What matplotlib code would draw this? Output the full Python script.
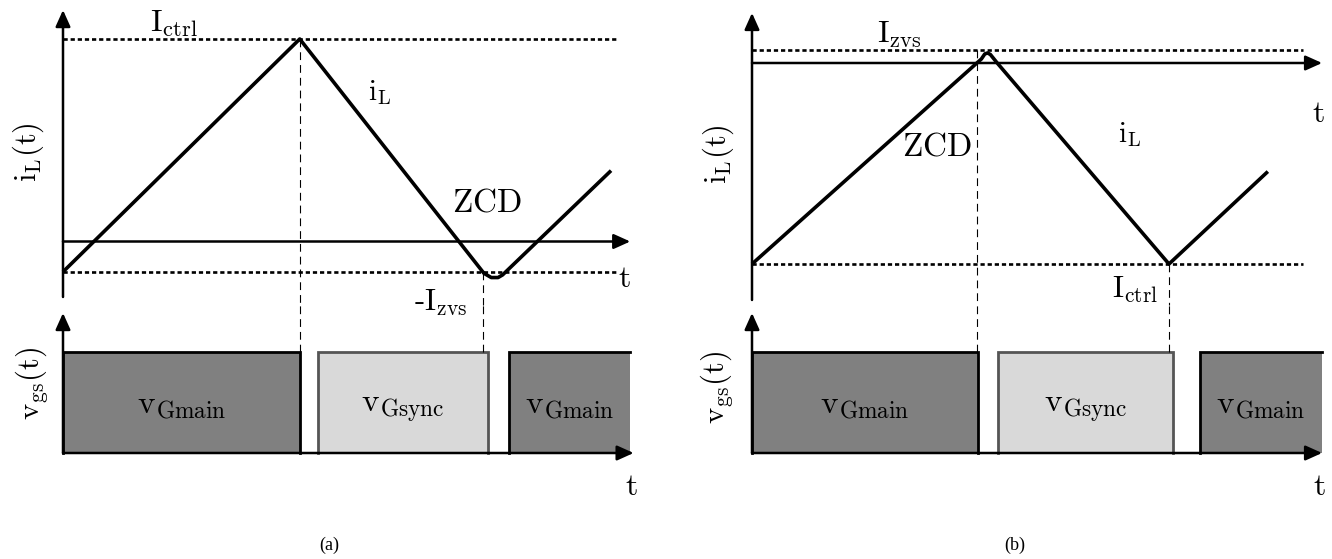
import matplotlib
matplotlib.use("Agg")
import matplotlib.pyplot as plt

plt.rcParams['mathtext.fontset'] = 'cm'
plt.rcParams['font.family'] = ['DejaVu Serif']

# panel (a): inductor current, time in arbitrary units, current normalised to I_ctrl
t_a = [0.0, 4.19, 7.45, 7.58, 7.70, 7.78, 9.70]
i_a = [-0.15, 1.0, -0.157, -0.178, -0.178, -0.165, 0.35]
ictrl_a = 1.0
izvs_a = -0.15
peak_a = 4.19
zcd_a = 7.43

# panel (b): inductor current, normalised to -I_ctrl
t_b = [0.0, 4.06, 4.12, 4.17, 4.22, 4.34, 7.38, 9.13]
i_b = [-1.0, 0.02, 0.045, 0.05, 0.042, 0.0, -1.0, -0.54]
izvs_b = 0.064
ictrl_b = -1.0
zcd_b = 3.98
valley_b = 7.38

# gate pulses: (start, end, kind)
pulses_a = [(0.0, 4.19, 'main'), (4.51, 7.52, 'sync'), (7.89, 10.04, 'main')]
pulses_b = [(0.0, 4.0, 'main'), (4.35, 7.45, 'sync'), (7.93, 10.09, 'main')]

DARK = '#808080'
LIGHT = '#d9d9d9'
W, H = 1332, 559

fig = plt.figure(figsize=(W / 100, H / 100), dpi=100)


def add_ax(px0, px1, py0, py1, xlim, ylim):
    ax = fig.add_axes([px0 / W, 1 - py1 / H, (px1 - px0) / W, (py1 - py0) / H])
    ax.set_xlim(*xlim)
    ax.set_ylim(*ylim)
    ax.set_axis_off()
    return ax


def arrow(ax, x0, y0, x1, y1):
    ax.annotate('', xy=(x1, y1), xytext=(x0, y0), annotation_clip=False,
                arrowprops=dict(arrowstyle='-|>,head_length=1.0,head_width=0.45',
                                lw=1.8, color='k', shrinkA=0, shrinkB=0,
                                mutation_scale=10))


def dotted(ax, y, x1):
    ax.plot([0, x1], [y, y], color='k', lw=1.9, ls=(0, (1.6, 1.1)))


def vdash(ax, x, y0, y1):
    ax.plot([x, x], [y0, y1], color='k', lw=0.8, ls=(0, (7, 4.5)), clip_on=False)


def gate(ax, pulses, xtip):
    for k, (s, e, kind) in enumerate(pulses):
        last = k == len(pulses) - 1
        if kind == 'main':
            ax.fill_between([s, e], 0, 1, color=DARK, lw=0)
            xs = [s, s, e] if last else [s, s, e, e]
            ys = [0, 1, 1] if last else [0, 1, 1, 0]
            ax.plot(xs, ys, color='k', lw=2.0, solid_joinstyle='miter')
            lab = r'$\mathrm{v}_{\mathrm{Gmain}}$'
        else:
            ax.fill_between([s, e], 0, 1, color=LIGHT, lw=0)
            ax.plot([s, s, e, e], [0, 1, 1, 0], color='#555555', lw=2.0,
                    solid_joinstyle='miter')
            lab = r'$\mathrm{v}_{\mathrm{Gsync}}$'
        ax.text((s + e) / 2, 0.40, lab, fontsize=24, ha='center', va='baseline')
    arrow(ax, 0, 0, xtip, 0)
    arrow(ax, 0, 0, 0, 1.386)
    ax.text(xtip - 0.05, -0.42, r'$\mathrm{t}$', fontsize=23, ha='center', va='baseline')


# ---------- panel (a) ----------
ax = add_ax(0, 666, 0, 305, ((0 - 63) / 56.5, (666 - 63) / 56.5),
            ((241.5 - 305) / 202.5, 241.5 / 202.5))
dotted(ax, ictrl_a, 9.8)
dotted(ax, izvs_a, 9.8)
arrow(ax, 0, 0, 10.04, 0)
arrow(ax, 0, -0.274, 0, 1.143)
ax.plot(t_a, i_a, color='k', lw=2.6, solid_joinstyle='round', solid_capstyle='butt')
vdash(ax, peak_a, ictrl_a, ax.get_ylim()[0])
vdash(ax, zcd_a, izvs_a, ax.get_ylim()[0])
ax.text(1.54, 1.035, r'$\mathrm{I}_{\mathrm{ctrl}}$', fontsize=23, va='baseline')
ax.text(5.40, 0.70, r'$\mathrm{i}_{\mathrm{L}}$', fontsize=21, va='baseline')
ax.text(6.88, 0.146, r'$\mathrm{ZCD}$', fontsize=24, va='baseline')
ax.text(6.21, -0.343, r'$\mathrm{\text{-}I}_{\mathrm{zvs}}$', fontsize=22, va='baseline')
ax.text(9.93, -0.225, r'$\mathrm{t}$', fontsize=23, ha='center', va='baseline')
ax.text(-0.62, 0.44, r'$\mathrm{i}_{\mathrm{L}}(\mathrm{t})$', fontsize=22,
        rotation=90, ha='center', va='center')

ax = add_ax(0, 666, 305, 559, ((0 - 63) / 56.5, (666 - 63) / 56.5),
            ((453 - 559) / 101, (453 - 305) / 101))
gate(ax, pulses_a, 10.1)
vdash(ax, peak_a, 1.0, ax.get_ylim()[1])
vdash(ax, zcd_a, 1.0, ax.get_ylim()[1])
ax.text(-0.55, 0.69, r'$\mathrm{v}_{\mathrm{gs}}(\mathrm{t})$', fontsize=22,
        rotation=90, ha='center', va='center')

# ---------- panel (b) ----------
ax = add_ax(666, 1332, 0, 305, ((666 - 752) / 56.5, (1332 - 752) / 56.5),
            (-(305 - 63) / 201, 63 / 201))
dotted(ax, izvs_b, 9.75)
dotted(ax, ictrl_b, 9.75)
arrow(ax, 0, 0, 10.09, 0)
arrow(ax, 0, -1.179, 0, 0.249)
ax.plot(t_b, i_b, color='k', lw=2.6, solid_joinstyle='round', solid_capstyle='butt')
vdash(ax, zcd_b, izvs_b, ax.get_ylim()[0])
vdash(ax, valley_b, ictrl_b, ax.get_ylim()[0])
ax.text(2.21, 0.104, r'$\mathrm{I}_{\mathrm{zvs}}$', fontsize=23, va='baseline')
ax.text(2.65, -0.458, r'$\mathrm{ZCD}$', fontsize=24, va='baseline')
ax.text(6.48, -0.393, r'$\mathrm{i}_{\mathrm{L}}$', fontsize=21, va='baseline')
ax.text(6.37, -1.169, r'$\mathrm{I}_{\mathrm{ctrl}}$', fontsize=22, va='baseline')
ax.text(10.02, -0.294, r'$\mathrm{t}$', fontsize=23, ha='center', va='baseline')
ax.text(-0.60, -0.455, r'$\mathrm{i}_{\mathrm{L}}(\mathrm{t})$', fontsize=22,
        rotation=90, ha='center', va='center')

ax = add_ax(666, 1332, 305, 559, ((666 - 752) / 56.5, (1332 - 752) / 56.5),
            ((453 - 559) / 101, (453 - 305) / 101))
gate(ax, pulses_b, 10.09)
vdash(ax, zcd_b, 1.0, ax.get_ylim()[1])
vdash(ax, valley_b, 1.0, ax.get_ylim()[1])
ax.text(-0.62, 0.65, r'$\mathrm{v}_{\mathrm{gs}}(\mathrm{t})$', fontsize=22,
        rotation=90, ha='center', va='center')

fig.text(329 / W, 1 - 545 / H, '(a)', fontsize=13, family='Liberation Serif',
         ha='center', va='center')
fig.text(1015 / W, 1 - 545 / H, '(b)', fontsize=13, family='Liberation Serif',
         ha='center', va='center')

fig.savefig('out.png', dpi=100)
